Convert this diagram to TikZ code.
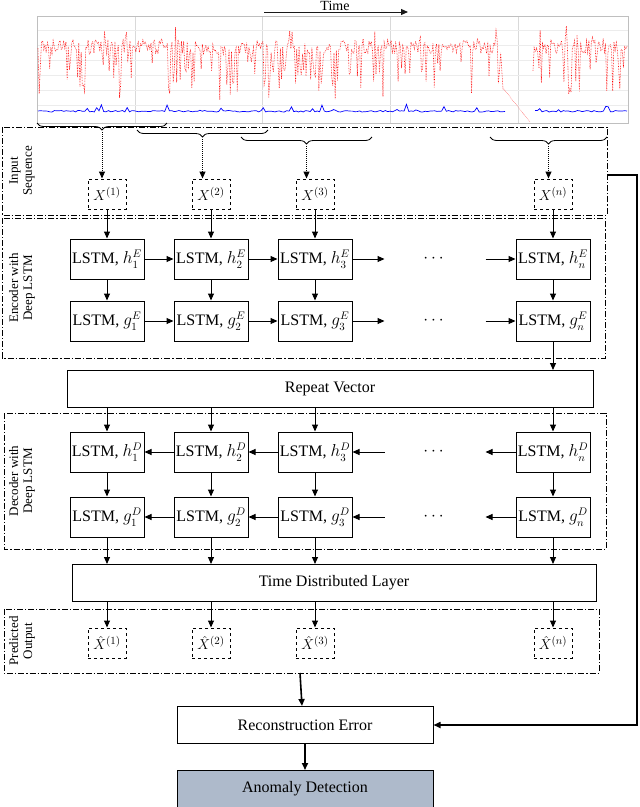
\documentclass[tikz,border=0pt]{standalone}
\usepackage{fontspec}
\setmainfont{Liberation Serif}
\usepackage{amsmath}
\usetikzlibrary{positioning, arrows.meta, decorations.pathreplacing, calc}

\tikzset{
  lstm/.style={draw, line width=1pt, minimum width=74pt, minimum height=40pt, inner sep=1pt, font=\fontsize{16}{18}\selectfont},
  xbox/.style={draw, dashed, line width=1pt, minimum width=38pt, minimum height=30pt, inner sep=1pt, font=\fontsize{15}{17}\selectfont},
  wide/.style={draw, line width=1pt, minimum height=37pt, font=\fontsize{16}{18}\selectfont},
  group/.style={draw, line width=0.8pt, dash pattern=on 6pt off 2pt on 1.2pt off 2pt},
  side/.style={rotate=90, align=center, font=\fontsize{13}{14}\selectfont},
  arr/.style={-{Triangle[length=7pt,width=6pt]}, line width=1pt},
  brc/.style={decorate, decoration={brace, mirror, amplitude=7pt}, line width=0.8pt}
}

\begin{document}
\begin{tikzpicture}[x=1pt,y=-1pt]
\useasboundingbox (0,0) rectangle (640,807);

% time series
\pgfmathsetseed{11}
\fill[white] (37,16) rectangle (628,123);
\foreach \gx in {135,262,390,518} \draw[gray!30] (\gx,16) -- (\gx,123);
\foreach \gy in {30,45,60,75,90,105} \draw[gray!15] (37,\gy) -- (628,\gy);
\draw[gray!50] (37,16) rectangle (628,123);
\draw[red, line width=0.6pt, densely dotted] plot[samples=400, domain=38:503] (\x, {40+14*rnd + (rnd>0.8)*(15+32*rnd) - (rnd>0.9)*18*rnd});
\draw[red, line width=0.6pt, densely dotted] plot[samples=80, domain=533:627] (\x, {40+14*rnd + (rnd>0.8)*(15+32*rnd) - (rnd>0.9)*18*rnd});
\draw[red, densely dotted] (503,88) -- (530,122);
\draw[blue, line width=0.7pt] plot[samples=200, domain=38:505] (\x, {112-1.5*rnd - (rnd>0.85)*7*rnd});
\draw[blue, line width=0.7pt] plot[samples=40, domain=535:627] (\x, {112-1.5*rnd - (rnd>0.85)*7*rnd});
\node[font=\fontsize{14}{16}\selectfont] (time) at (335,6) {Time};
\coordinate (t0) at (264,12);
\coordinate (t1) at (408,12);
\draw[arr, gray!20!black] (t0) -- (t1);

% groups
\draw[group] (2,127) rectangle (607,215);
\draw[group] (2,218) rectangle (605,358);
\draw[group] (4,413) rectangle (606,549);
\draw[group] (4,609) rectangle (599,673);
\node[side] (lin) at (22,171) {Input\\Sequence};
\node[side] (lenc) at (22,288) {Encoder with\\Deep LSTM};
\node[side] (ldec) at (22,481) {Decoder with\\Deep LSTM};
\node[side] (lout) at (22,641) {Predicted\\Output};

% braces
\draw[brc] (37,123) -- (167,123) coordinate[midway, yshift=-9pt] (b1);
\draw[brc] (137,130) -- (268,130) coordinate[midway, yshift=-9pt] (b2);
\draw[brc] (241,137) -- (372,137) coordinate[midway, yshift=-9pt] (b3);
\draw[brc] (490,137) -- (607,137) coordinate[midway, yshift=-9pt] (b4);

% columns
\foreach \i/\cx/\lab in {1/107/1, 2/211/2, 3/315/3, 4/553/n} {
  \node[xbox] (x\i) at (\cx,194) {$X^{(\lab)}$};
  \node[lstm] (he\i) at (\cx,259) {LSTM, $h_{\lab}^{E}$};
  \node[lstm] (ge\i) at (\cx,321) {LSTM, $g_{\lab}^{E}$};
  \node[lstm] (hd\i) at (\cx,452) {LSTM, $h_{\lab}^{D}$};
  \node[lstm] (gd\i) at (\cx,517) {LSTM, $g_{\lab}^{D}$};
  \node[xbox] (y\i) at (\cx,643) {$\hat{X}^{(\lab)}$};
}
\node[wide, minimum width=526pt] (rv) at (330,389) {Repeat Vector};
\node[wide, minimum width=524pt] (td) at (334,583) {Time Distributed Layer};
\node[wide, minimum width=256pt] (re) at (305,725) {Reconstruction Error};
\node[wide, minimum width=256pt, fill={rgb,255:red,174;green,186;blue,203}] (ad) at (305,789) {Anomaly Detection};

\foreach \i in {1,2,3,4} {
  \draw[arr, densely dotted] (b\i) -- (b\i |- x\i.north);
  \draw[arr] (x\i) -- (he\i);
  \draw[arr] (he\i) -- (ge\i);
  \draw[arr] (hd\i |- rv.south) -- (hd\i);
  \draw[arr] (hd\i) -- (gd\i);
  \draw[arr] (gd\i) -- (gd\i |- td.north);
  \draw[arr] (y\i |- td.south) -- (y\i);
}
\draw[arr] (ge4) -- (ge4 |- rv.north);

% recurrent links
\foreach \a/\b in {1/2, 2/3} {
  \draw[arr] (he\a) -- (he\b);
  \draw[arr] (ge\a) -- (ge\b);
  \draw[arr] (hd\b) -- (hd\a);
  \draw[arr] (gd\b) -- (gd\a);
}
\foreach \r in {he,ge,hd,gd} {
  \coordinate (\r l) at ($(\r 3.east)+(32,0)$);
  \coordinate (\r r) at ($(\r 4.west)-(30,0)$);
  \node[font=\fontsize{16}{18}\selectfont] (\r d) at ($(\r l)!0.5!(\r r)$) {$\cdots$};
}
\draw[arr] (he3) -- (hel);
\draw[arr] (ge3) -- (gel);
\draw[arr] (her) -- (he4);
\draw[arr] (ger) -- (ge4);
\draw[arr] (hdl) -- (hd3);
\draw[arr] (gdl) -- (gd3);
\draw[arr] (hd4) -- (hdr);
\draw[arr] (gd4) -- (gdr);

% error path
\coordinate (pout) at (300,673);
\coordinate (fb1) at (607,175);
\coordinate (fb2) at (637,175);
\coordinate (fb3) at (637,725);
\draw[arr, line width=1.6pt] (pout) -- ($(re.north)+(-3,0)$);
\draw[arr, line width=1.6pt] (re) -- (ad);
\draw[arr, line width=1.6pt] (fb1) -- (fb2) -- (fb3) -- (re.east);
\end{tikzpicture}
\end{document}
